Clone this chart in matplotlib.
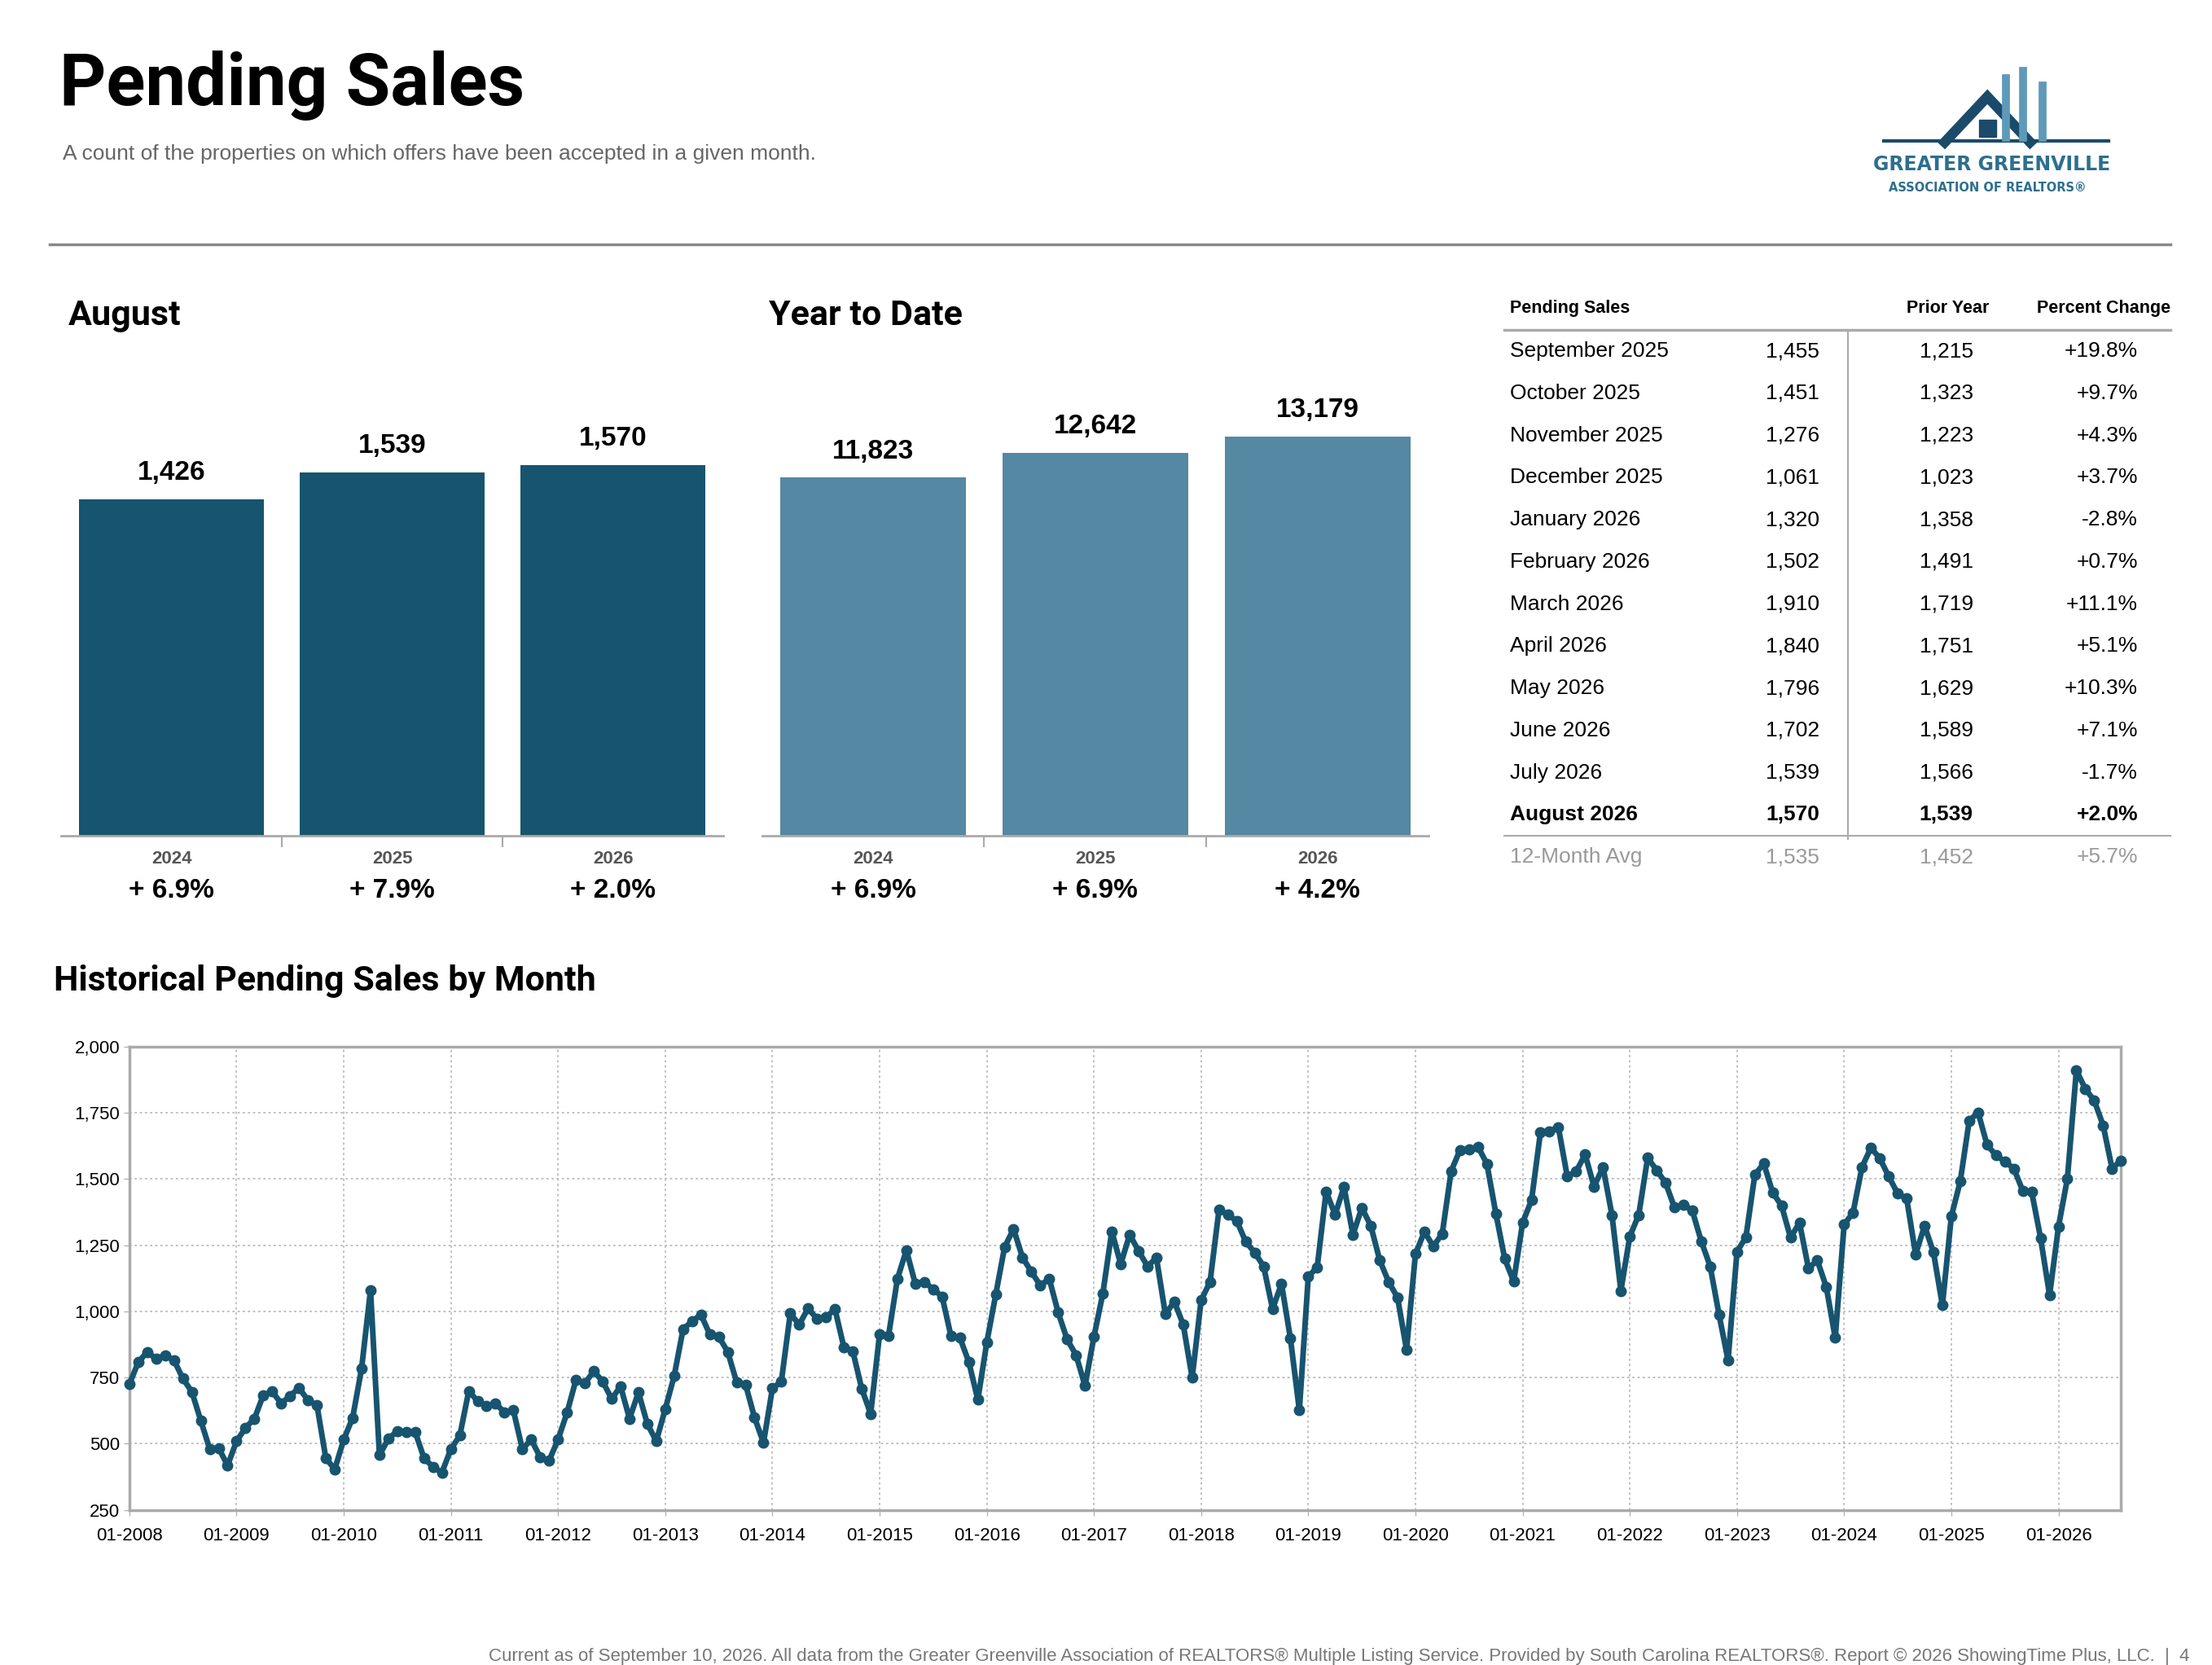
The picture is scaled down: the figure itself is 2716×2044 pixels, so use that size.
import matplotlib
matplotlib.use("Agg")
import matplotlib.pyplot as plt
from matplotlib import font_manager
from matplotlib.lines import Line2D
import numpy as np

names = {f.name for f in font_manager.fontManager.ttflist}
COND = ['Liberation Sans Narrow', 'DejaVu Sans'] if 'Liberation Sans Narrow' in names else ['Roboto', 'DejaVu Sans']
BODY = ['Liberation Sans', 'DejaVu Sans']
plt.rcParams['font.family'] = BODY

# ---------------- data ----------------
bar_years = ["2024", "2025", "2026"]
aug_values = [1426, 1539, 1570]
aug_changes = ["+ 6.9%", "+ 7.9%", "+ 2.0%"]
ytd_values = [11823, 12642, 13179]
ytd_changes = ["+ 6.9%", "+ 6.9%", "+ 4.2%"]

table_months = ["September 2025", "October 2025", "November 2025", "December 2025",
                "January 2026", "February 2026", "March 2026", "April 2026",
                "May 2026", "June 2026", "July 2026", "August 2026"]
table_current = ["1,455", "1,451", "1,276", "1,061", "1,320", "1,502", "1,910",
                 "1,840", "1,796", "1,702", "1,539", "1,570"]
table_prior = ["1,215", "1,323", "1,223", "1,023", "1,358", "1,491", "1,719",
               "1,751", "1,629", "1,589", "1,566", "1,539"]
table_pct = ["+19.8%", "+9.7%", "+4.3%", "+3.7%", "-2.8%", "+0.7%", "+11.1%",
             "+5.1%", "+10.3%", "+7.1%", "-1.7%", "+2.0%"]
avg_row = ["12-Month Avg", "1,535", "1,452", "+5.7%"]

hist_2008 = [725, 808, 847, 820, 835, 815, 746, 696, 587, 480, 484, 418]
hist_2009 = [510, 560, 595, 684, 697, 652, 681, 711, 664, 646, 445, 404]
hist_2010 = [516, 598, 784, 1080, 457, 519, 548, 545, 545, 445, 413, 392]
hist_2011 = [480, 531, 699, 661, 642, 652, 619, 626, 480, 516, 449, 437]
hist_2012 = [516, 617, 741, 729, 774, 735, 670, 717, 595, 694, 575, 510]
hist_2013 = [631, 756, 933, 962, 988, 912, 904, 847, 732, 723, 599, 504]
hist_2014 = [709, 735, 992, 950, 1012, 971, 977, 1009, 865, 850, 708, 613]
hist_2015 = [914, 908, 1123, 1231, 1104, 1111, 1084, 1056, 906, 900, 808, 666]
hist_2016 = [882, 1063, 1243, 1311, 1204, 1149, 1098, 1123, 995, 894, 835, 719]
hist_2017 = [904, 1068, 1302, 1178, 1290, 1228, 1170, 1202, 989, 1037, 950, 749]
hist_2018 = [1042, 1111, 1383, 1365, 1341, 1263, 1222, 1170, 1009, 1104, 898, 626]
hist_2019 = [1131, 1167, 1453, 1365, 1470, 1290, 1391, 1323, 1193, 1111, 1052, 855]
hist_2020 = [1217, 1300, 1246, 1293, 1530, 1610, 1612, 1622, 1557, 1370, 1198, 1113]
hist_2021 = [1335, 1420, 1677, 1680, 1695, 1509, 1529, 1592, 1471, 1545, 1364, 1078]
hist_2022 = [1283, 1364, 1580, 1533, 1486, 1392, 1403, 1380, 1265, 1170, 986, 815]
hist_2023 = [1225, 1280, 1516, 1558, 1449, 1398, 1278, 1335, 1163, 1192, 1092, 900]
hist_2024 = [1328, 1373, 1545, 1618, 1577, 1509, 1444, 1426, 1215, 1323, 1223, 1023]
hist_2025 = [1358, 1491, 1719, 1751, 1629, 1589, 1566, 1539, 1455, 1451, 1276, 1061]
hist_2026 = [1320, 1502, 1910, 1840, 1796, 1702, 1539, 1570]
hist_values = (hist_2008 + hist_2009 + hist_2010 + hist_2011 + hist_2012 + hist_2013 +
               hist_2014 + hist_2015 + hist_2016 + hist_2017 + hist_2018 + hist_2019 +
               hist_2020 + hist_2021 + hist_2022 + hist_2023 + hist_2024 + hist_2025 + hist_2026)
hist_tick_labels = ["01-%d" % y for y in range(2008, 2027)]
y_ticks = [250, 500, 750, 1000, 1250, 1500, 1750, 2000]

# ---------------- layout helpers (reference at 1556x1171 display units) ----------------
W, H = 1556.0, 1171.0
fig = plt.figure(figsize=(27.16, 20.44), dpi=100)

def fx(x): return x / W
def fy(y): return 1 - y / H
def box(x0, y0, x1, y1): return [fx(x0), fy(y1), (x1 - x0) / W, (y1 - y0) / H]

DARK = "#17546F"
LIGHT = "#5588A3"

fig.text(fx(42), fy(60), "Pending Sales", family=COND, weight='bold', fontsize=64, va='center', ha='left')
fig.text(fx(44), fy(108), "A count of the properties on which offers have been accepted in a given month.",
         fontsize=19, color="#666666", va='center')
fig.add_artist(Line2D([fx(35), fx(1527)], [fy(172), fy(172)], color="#888888", lw=2.5))

# logo
lc = "#2d6f8e"
fig.text(fx(1401), fy(116), "GREATER GREENVILLE", family=['DejaVu Sans'], weight='bold', fontsize=17,
         color=lc, ha='center', va='center')
fig.text(fx(1398), fy(132), "ASSOCIATION OF REALTORS®", family=['DejaVu Sans'], weight='bold', fontsize=10.5,
         color=lc, ha='center', va='center')
fig.add_artist(Line2D([fx(1368), fx(1398), fx(1428)], [fy(100), fy(68), fy(100)], color="#1b4a6b", lw=9,
                      solid_joinstyle='miter'))
fig.add_artist(Line2D([fx(1325), fx(1483)], [fy(99), fy(99)], color="#1b4a6b", lw=3))
for xx, top in [(1411, 55), (1423, 50), (1437, 60)]:
    fig.add_artist(Line2D([fx(xx), fx(xx)], [fy(top), fy(97)], color="#5e9ab8", lw=7))
fig.add_artist(plt.Rectangle((fx(1392), fy(96)), 12 / W, 12 / H, color="#1b4a6b", transform=fig.transFigure))

# bar panels
def bar_panel(x0, x1, tx, title, vals, changes, color, top_val, top_y):
    ax = fig.add_axes(box(x0, 240, x1, 588))
    base = 588.0
    ymax = top_val * (base - 240) / (base - top_y)
    xs = np.arange(len(vals))
    ax.bar(xs, vals, width=0.837, color=color)
    ax.set_xlim(-0.5, len(vals) - 0.5)
    ax.set_ylim(0, ymax)
    for s in ['top', 'right', 'left']:
        ax.spines[s].set_visible(False)
    ax.spines['bottom'].set_color("#aaaaaa")
    ax.spines['bottom'].set_linewidth(2)
    ax.set_yticks([])
    ax.set_xticks([0.5, 1.5])
    ax.tick_params(axis='x', length=10, width=1.5, color="#aaaaaa", labelbottom=False)
    for i, v in enumerate(vals):
        ax.annotate(f"{v:,}", (i, v), xytext=(0, 12), textcoords='offset points', ha='center', va='bottom',
                    fontsize=24, weight='bold')
        ax.annotate(bar_years[i], (i, 0), xytext=(0, -20), textcoords='offset points', ha='center',
                    va='center', fontsize=16, weight='bold', color="#555555")
        ax.annotate(changes[i], (i, 0), xytext=(0, -48), textcoords='offset points', ha='center',
                    va='center', fontsize=24, weight='bold')
    fig.text(fx(tx), fy(222), title, family=COND, weight='bold', fontsize=31, va='center')

bar_panel(43, 509, 48, "August", aug_values, aug_changes, DARK, 1570, 327)
bar_panel(536, 1005, 541, "Year to Date", ytd_values, ytd_changes, LIGHT, 13179, 307)

# table
fig.text(fx(1062), fy(217), "Pending Sales", weight='bold', fontsize=15.5, va='center')
fig.text(fx(1399), fy(217), "Prior Year", weight='bold', fontsize=15.5, va='center', ha='right')
fig.text(fx(1527), fy(217), "Percent Change", weight='bold', fontsize=15.5, va='center', ha='right')
fig.add_artist(Line2D([fx(1058), fx(1527)], [fy(232), fy(232)], color="#aaaaaa", lw=2.5))
fig.add_artist(Line2D([fx(1300), fx(1300)], [fy(232), fy(590)], color="#aaaaaa", lw=1.5))
step = 29.65
for i in range(len(table_months)):
    y = 247 + step * i
    bold = 'bold' if i == len(table_months) - 1 else 'normal'
    fig.text(fx(1062), fy(y), table_months[i], fontsize=19, va='center', weight=bold)
    fig.text(fx(1280), fy(y), table_current[i], fontsize=19, va='center', ha='right', weight=bold)
    fig.text(fx(1388), fy(y), table_prior[i], fontsize=19, va='center', ha='right', weight=bold)
    fig.text(fx(1504), fy(y), table_pct[i], fontsize=19, va='center', ha='right', weight=bold)
y = 247 + step * 12
fig.add_artist(Line2D([fx(1058), fx(1527)], [fy(y - step / 2), fy(y - step / 2)], color="#aaaaaa", lw=1.5))
fig.text(fx(1062), fy(y), avg_row[0], fontsize=19, va='center', color="#999999")
fig.text(fx(1280), fy(y), avg_row[1], fontsize=19, va='center', ha='right', color="#999999")
fig.text(fx(1388), fy(y), avg_row[2], fontsize=19, va='center', ha='right', color="#999999")
fig.text(fx(1504), fy(y), avg_row[3], fontsize=19, va='center', ha='right', color="#999999")

# historical
fig.text(fx(38), fy(690), "Historical Pending Sales by Month", family=COND, weight='bold', fontsize=31, va='center')
ax = fig.add_axes(box(91, 736, 1492, 1062))
xs = np.arange(len(hist_values))
ax.plot(xs, hist_values, color=DARK, lw=5, marker='o', markersize=9, zorder=3, clip_on=False)
ax.set_xlim(0, len(hist_values) - 1)
ax.set_ylim(250, 2000)
ax.set_yticks(y_ticks)
ax.set_yticklabels([f"{v:,}" for v in y_ticks])
ax.set_xticks(np.arange(0, len(hist_values), 12))
ax.set_xticklabels(hist_tick_labels)
ax.grid(True, color="#bbbbbb", linestyle=(0, (1.5, 2)), lw=1.3)
for s in ax.spines.values():
    s.set_color("#aaaaaa")
    s.set_linewidth(2.5)
ax.tick_params(axis='both', labelsize=16, length=5, color="#aaaaaa")
ax.tick_params(axis='x', pad=10)

fig.text(fx(1540), fy(1165), "Current as of September 10, 2026. All data from the Greater Greenville Association of REALTORS® "
         "Multiple Listing Service. Provided by South Carolina REALTORS®. Report © 2026 ShowingTime Plus, LLC.  |  4",
         fontsize=16, color="#777777", ha='right', va='center')

fig.savefig("out.png", dpi=100, facecolor='white')
